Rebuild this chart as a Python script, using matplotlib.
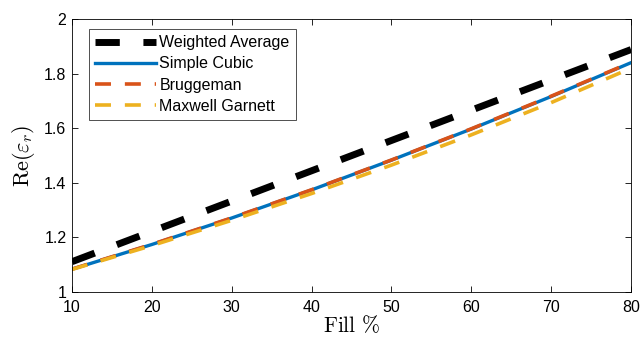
import matplotlib
matplotlib.use("Agg")
import matplotlib.pyplot as plt

plt.rcParams['font.family'] = ['Liberation Sans', 'DejaVu Sans']
plt.rcParams['mathtext.fontset'] = 'cm'
plt.rcParams['lines.scale_dashes'] = False

fill = [10, 20, 30, 40, 50, 60, 70, 80]
weighted_avg = [1.111, 1.222, 1.333, 1.444, 1.555, 1.666, 1.777, 1.888]
simple_cubic = [1.0835, 1.174, 1.271, 1.374, 1.483, 1.597, 1.716, 1.840]
bruggeman = [1.0838, 1.1745, 1.2715, 1.3745, 1.4835, 1.5978, 1.7172, 1.8410]
maxwell_garnett = [1.0827, 1.1701, 1.2626, 1.3607, 1.4648, 1.5756, 1.6937, 1.8199]

xticks = [10, 20, 30, 40, 50, 60, 70, 80]
yticks = [1, 1.2, 1.4, 1.6, 1.8, 2]
yticklabels = ['1', '1.2', '1.4', '1.6', '1.8', '2']

W, H = 643, 348
L, R, T, B = 72, 631, 19, 292
fig = plt.figure(figsize=(W / 100, H / 100), dpi=100)
ax = fig.add_axes([L / W, 1 - B / H, (R - L) / W, (B - T) / H])

ax.plot(fill, weighted_avg, color='black', lw=5, dashes=(17.5, 17), label='Weighted Average')
ax.plot(fill, simple_cubic, color='#0072BD', lw=2.4, label='Simple Cubic')
ax.plot(fill, bruggeman, color='#D95319', lw=2.6, dashes=(11.5, 10), label='Bruggeman')
ax.plot(fill, maxwell_garnett, color='#EDB120', lw=2.6, dashes=(11.5, 10), label='Maxwell Garnett')

ax.set_xlim(10, 80)
ax.set_ylim(1, 2)
ax.set_xticks(xticks)
ax.set_yticks(yticks)
ax.set_yticklabels(yticklabels)
ax.tick_params(direction='in', top=True, right=True, labelsize=11.5, length=4.5, width=0.6)
ax.tick_params(axis='x', pad=6)
ax.tick_params(axis='y', pad=4)
for s in ax.spines.values():
    s.set_linewidth(0.6)

ax.set_xlabel(r'$\mathrm{Fill}\ \%$', fontsize=15.5, labelpad=0)
ax.set_ylabel(r'$\mathrm{Re}(\varepsilon_r)$', fontsize=16, labelpad=5)

leg = ax.legend(loc='upper left', bbox_to_anchor=((89 - L) / (R - L), (B - 29) / (B - T)),
                fontsize=11.5, frameon=True, fancybox=False, edgecolor='black',
                handlelength=3.8, handletextpad=0.2, borderpad=0.4, labelspacing=0.38,
                borderaxespad=0)
leg.get_frame().set_linewidth(0.6)

fig.savefig('out.png', dpi=100)
